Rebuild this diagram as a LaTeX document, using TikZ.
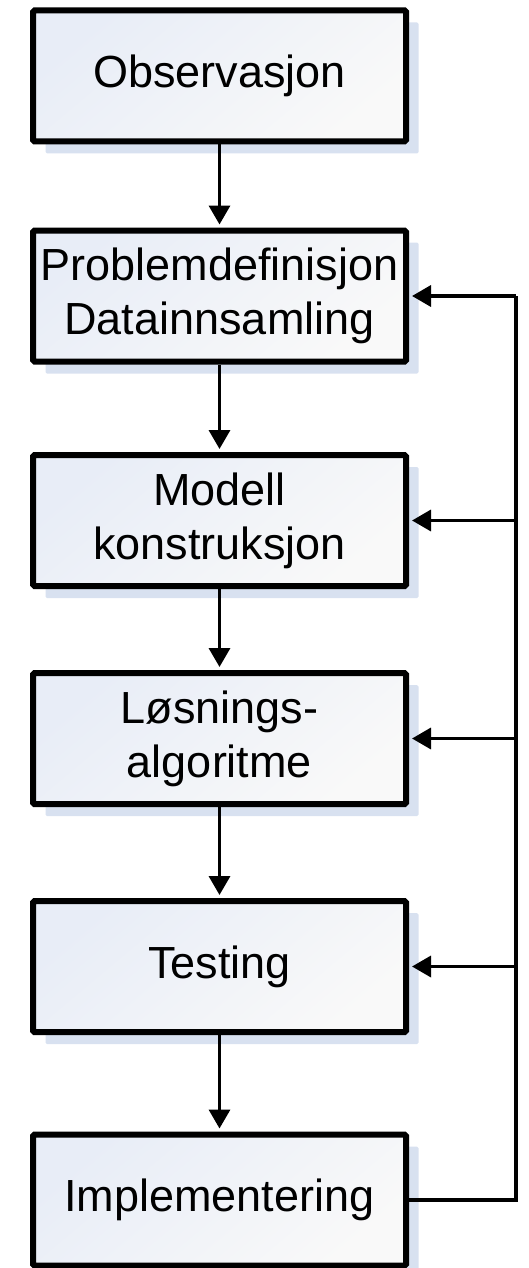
\documentclass[tikz,border=0pt]{standalone}
\usepackage{fontspec}
\setmainfont{Liberation Sans}
\usetikzlibrary{arrows.meta,shadows}
\definecolor{shadowblue}{RGB}{216,225,240}
\definecolor{fillA}{RGB}{232,237,247}
\definecolor{fillB}{RGB}{249,249,249}
\tikzset{
  stepbox/.style={rectangle, draw=black, line width=6pt, rounded corners=1.5pt,
    minimum width=373pt, minimum height=131pt, align=center,
    top color=fillA, bottom color=fillB, shading angle=40,
    font=\fontsize{45pt}{54pt}\selectfont,
    drop shadow={shadow xshift=12.5pt, shadow yshift=-12pt, fill=shadowblue, opacity=1, draw=none}},
  arr/.style={line width=3.5pt, -{Triangle[length=19pt,width=21pt]}, shorten >=3pt},
  ln/.style={line width=3.5pt}
}
\begin{document}
\begin{tikzpicture}[x=1pt,y=-1pt]
\useasboundingbox (0,0) rectangle (529,1268);
\node[stepbox] (b1) at (219.5,76) {Observasjon};
\node[stepbox] (b2) at (219.5,296) {Problemdefinisjon\\Datainnsamling};
\node[stepbox] (b3) at (219.5,520.5) {Modell\\konstruksjon};
\node[stepbox] (b4) at (219.5,738.5) {Løsnings-\\algoritme};
\node[stepbox] (b5) at (219.5,966.5) {Testing};
\node[stepbox] (b6) at (219.5,1200) {Implementering};
\coordinate (fx) at (516,0);
\draw[arr] (b1) -- (b2);
\draw[arr] (b2) -- (b3);
\draw[arr] (b3) -- (b4);
\draw[arr] (b4) -- (b5);
\draw[arr] (b5) -- (b6);
\draw[ln] (b6.east) -- (b6.east -| fx) -- (b2.east -| fx);
\draw[arr] (b2.east -| fx) -- (b2.east);
\draw[arr] (b3.east -| fx) -- (b3.east);
\draw[arr] (b4.east -| fx) -- (b4.east);
\draw[arr] (b5.east -| fx) -- (b5.east);
\end{tikzpicture}
\end{document}
